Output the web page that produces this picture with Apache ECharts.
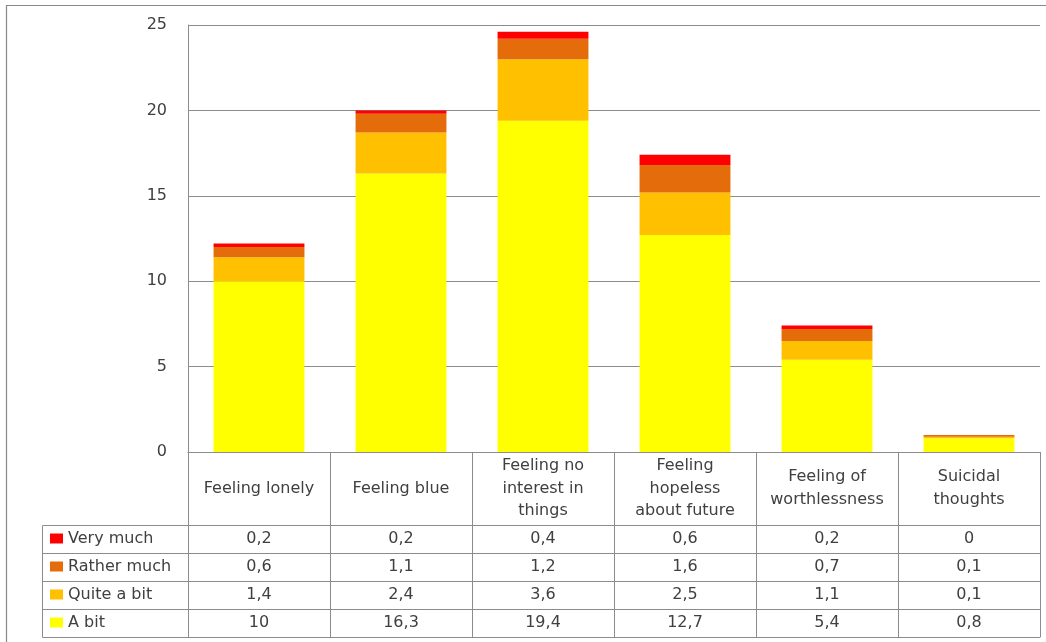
<!DOCTYPE html>
<html>
<head>
<meta charset="utf-8">
<script src="https://cdn.jsdelivr.net/npm/echarts@6/dist/echarts.min.js"></script>
<style>
html,body{margin:0;padding:0;background:#fff;}
#chart{width:1046px;height:642px;}
</style>
</head>
<body>
<div id="chart"></div>
<script>
// ---- data ----
const categories = ['Feeling lonely', 'Feeling blue', 'Feeling no\ninterest in\nthings', 'Feeling\nhopeless\nabout future', 'Feeling of\nworthlessness', 'Suicidal\nthoughts'];
const seriesNames = ['Very much', 'Rather much', 'Quite a bit', 'A bit'];
const veryMuch = [0.2, 0.2, 0.4, 0.6, 0.2, 0];
const ratherMuch = [0.6, 1.1, 1.2, 1.6, 0.7, 0.1];
const quiteABit = [1.4, 2.4, 3.6, 2.5, 1.1, 0.1];
const aBit = [10, 16.3, 19.4, 12.7, 5.4, 0.8];
const yMin = 0, yMax = 25, yInterval = 5;

// ---- styling / layout ----
const colors = { 'Very much': '#FF0000', 'Rather much': '#E46C0A', 'Quite a bit': '#FFC000', 'A bit': '#FFFF00' };
const lineColor = '#8c8c8c';
const textColor = '#404040';
const FONT = 'DejaVu Sans';
const FS = 16;
const L = { left: 188, right: 6, top: 25, bottom: 190, header: 73, row: 28, legendLeft: 42 };
const W = 1046, H = 642;
const plotBottom = H - L.bottom;

const fmt = v => String(v).replace('.', ',');
const rowData = [veryMuch, ratherMuch, quiteABit, aBit];

const xAxes = [{
  type: 'category', data: categories, position: 'bottom', gridIndex: 0,
  axisLine: { show: true, lineStyle: { color: lineColor } },
  axisTick: { show: true, interval: 0, length: L.header + L.row * 4, lineStyle: { color: lineColor } },
  axisLabel: { interval: 0, margin: L.header / 2, verticalAlign: 'middle', lineHeight: 22.5,
    fontFamily: FONT, fontSize: FS, color: textColor, align: 'center' }
}];
rowData.forEach((arr, i) => {
  xAxes.push({
    type: 'category', data: arr.map(fmt), position: 'bottom', gridIndex: 0,
    offset: L.header + L.row * i,
    axisLine: { show: true, lineStyle: { color: lineColor } },
    axisTick: { show: false },
    axisLabel: { interval: 0, margin: L.row / 2, verticalAlign: 'middle', hideOverlap: false,
      fontFamily: FONT, fontSize: FS, color: textColor }
  });
});
xAxes.push({
  type: 'category', data: categories, position: 'bottom', gridIndex: 0,
  offset: L.header + L.row * 4,
  axisLine: { show: true, lineStyle: { color: lineColor } },
  axisTick: { show: false }, axisLabel: { show: false }
});

const seriesOrder = [['A bit', aBit], ['Quite a bit', quiteABit], ['Rather much', ratherMuch], ['Very much', veryMuch]];

const legendTop = plotBottom + L.header;
const legendGraphics = [];
legendGraphics.push({ type: 'rect', shape: { x: L.legendLeft + 0.5, y: legendTop + 0.5, width: L.left - L.legendLeft, height: L.row * 4 },
  style: { fill: 'none', stroke: lineColor, lineWidth: 1 }, silent: true });
for (let i = 1; i < 4; i++) {
  legendGraphics.push({ type: 'line', shape: { x1: L.legendLeft, y1: legendTop + L.row * i + 0.5, x2: L.left, y2: legendTop + L.row * i + 0.5 },
    style: { stroke: lineColor, lineWidth: 1 }, silent: true });
}
legendGraphics.push({ type: 'rect', shape: { x: 6.5, y: 5.5, width: W + 50, height: H + 50 },
  style: { fill: 'none', stroke: '#888', lineWidth: 1.2 }, silent: true });

const chart = echarts.init(document.getElementById('chart'), null, { renderer: 'canvas' });
chart.setOption({
  animation: false,
  backgroundColor: '#fff',
  grid: { left: L.left, right: L.right, top: L.top, bottom: L.bottom, containLabel: false },
  legend: {
    orient: 'vertical', left: L.legendLeft + 8, top: legendTop + 5.5,
    width: 140, height: 120, padding: 0,
    data: seriesNames, itemWidth: 13, itemHeight: 10, itemGap: 12, icon: 'rect',
    textStyle: { fontFamily: FONT, fontSize: FS, color: textColor },
    selectedMode: false
  },
  xAxis: xAxes,
  yAxis: {
    type: 'value', min: yMin, max: yMax, interval: yInterval,
    axisLine: { show: true, lineStyle: { color: lineColor } },
    axisTick: { show: false },
    splitLine: { show: true, lineStyle: { color: lineColor } },
    axisLabel: { margin: 21, fontFamily: FONT, fontSize: FS, color: textColor }
  },
  series: seriesOrder.map(([name, data]) => ({
    name, type: 'bar', stack: 'total', data, xAxisIndex: 0, barWidth: '64%',
    itemStyle: { color: colors[name] }
  })),
  graphic: legendGraphics
});
</script>
</body>
</html>
